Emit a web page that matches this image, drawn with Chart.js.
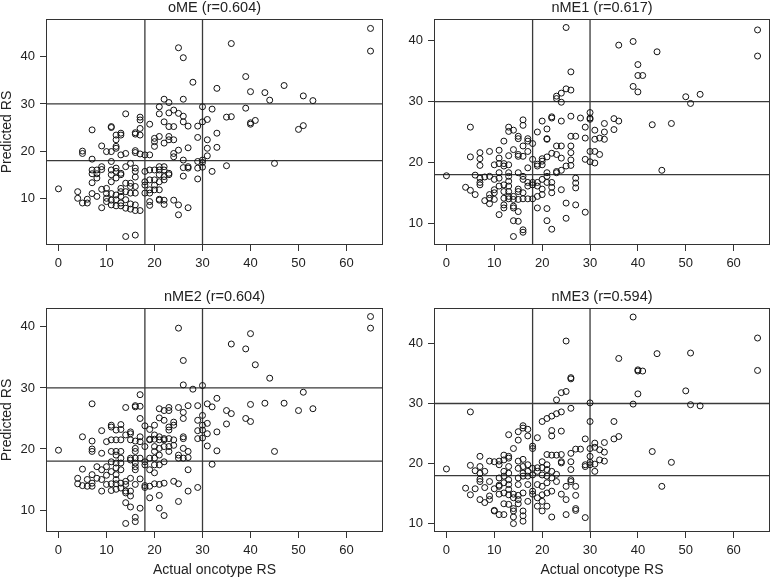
<!DOCTYPE html>
<html>
<head>
<meta charset="utf-8">
<script src="https://cdn.jsdelivr.net/npm/chart.js@4"></script>
<style>
  html, body { margin: 0; padding: 0; background: #fff; }
  body { width: 775px; height: 577px; position: relative; overflow: hidden; }
  canvas { position: absolute; }
</style>
</head>
<body>
<canvas id="c1" width="388" height="288" style="left:0;top:0"></canvas>
<canvas id="c2" width="387" height="288" style="left:388px;top:0"></canvas>
<canvas id="c3" width="388" height="289" style="left:0;top:288px"></canvas>
<canvas id="c4" width="387" height="289" style="left:388px;top:288px"></canvas>
<script>
// actual oncotype RS (x) vs predicted RS (y)
var omePts = [[0,12],[4,11.4],[4,10],[5,20],[5,19.5],[5,9],[6,9],[6,9.8],
  [7,24.5],[7,18.3],[7,16],[7,15.2],[7,13.3],[7,11],[8,16],[8,15.2],[8,14.3],[8,10.4],
  [9,21.1],[9,16.7],[9,16.1],[9,11.9],[9,8],[10,19.9],[10,12.1],[10,11],[10,10],[10,9.3],
  [11,19.9],[11,25],[11,25.2],[11,17.8],[11,16],[11,15],[11,13.5],[11,11],[11,9.6],[11,8.6],
  [12,23.4],[12,22.4],[12,21],[12,20.6],[12,16.4],[12,15.7],[12,14.3],[12,10.7],[12,9.7],[12,8.4],
  [13,23.8],[13,23.4],[13,19.2],[13,15.3],[13,15],[13,12.1],[13,11.4],[13,10.4],[13,9],[13,8.4],
  [14,27.9],[14,19.5],[14,16.7],[14,13.2],[14,11.4],[14,9.7],[14,7.9],[14,1.9],
  [15,17.4],[15,13.2],[15,12.5],[15,11.1],[15,8.8],[15,7.7],
  [16,23.9],[16,23.6],[16,20.1],[16,19.7],[16,16.4],[16,15.7],[16,14.5],[16,12.5],[16,11.1],[16,8.6],[16,7.4],[16,2.2],
  [17,27.2],[17,26.6],[17,24.8],[17,23.4],[17,19.4],[17,7.4],
  [18,19.2],[18,15.7],[18,13.5],[18,12.8],[18,11.1],
  [19,25.7],[19,19.2],[19,16],[19,13.9],[19,11.8],[19,11.1],[19,9.3],[19,8.5],
  [20,22.7],[20,22],[20,21],[20,16],[20,13.9],[20,12.8],[20,11.8],
  [21,29.4],[21,27.9],[21,23.1],[21,16.7],[21,16],[21,15],[21,13.5],[21,11.8],[21,9.8],[21,9.6],
  [22,31],[22,26.2],[22,21.7],[22,16.7],[22,16],[22,14.6],[22,13.9],[22,9.6],[22,8.7],
  [23,30.3],[23,28.1],[23,25.2],[23,23.1],[23,22.4],[23,15.3],[23,15],
  [24,28.7],[24,25.2],[24,22.4],[24,19.5],[24,18.8],[24,9.6],
  [25,41.9],[25,28],[25,20.2],[25,8.6],[25,6.5],
  [26,39.8],[26,31],[26,27.4],[26,26.2],[26,18.1],[26,16.5],[26,14.7],
  [27,25.3],[27,20.7],[27,16.7],[27,16.4],[27,8],[28,34.6],
  [29,25.3],[29,22.9],[29,17.8],[29,16.4],[29,14.1],
  [30,29.4],[30,26.2],[30,18.1],[30,17.6],[30,16.6],
  [31,26.7],[31,22.4],[31,20.6],[31,19],[32,28.9],[32,15.7],
  [33,33.3],[33,23.8],[33,20.8],[35,27.2],[35,16.9],[36,42.8],[36,27.3],
  [39,35.8],[39,29.1],[40,32.6],[40,26],[40,25.7],[41,26.5],[43,32.4],[44,30.8],[45,17.4],
  [47,33.9],[50,24.6],[51,31.7],[51,25.4],[53,30.7],[65,46],[65,41.2]];

var nme1Pts = [[0,17.8],[4,15.9],[5,25.8],[5,20.9],[5,15.4],[6,17.9],[6,14.7],
  [7,21.6],[7,20.6],[7,19.5],[7,17.4],[7,16.7],[7,16.3],[8,17.6],[8,13.7],
  [9,21.8],[9,17.7],[9,14.7],[9,14.1],[9,13.2],[10,19.6],[10,17.2],[10,15.5],[10,15],[10,13.9],
  [11,22],[11,20.7],[11,19.8],[11,18.3],[11,17.4],[11,16.1],[11,11.4],
  [12,23.5],[12,19.8],[12,19.4],[12,16.3],[12,15.2],[12,14.1],[12,13],[12,12.5],
  [13,25.8],[13,25.1],[13,21.1],[13,19.6],[13,18.3],[13,17.7],[13,16.9],[13,16.1],[13,15.2],[13,14.4],[13,14],
  [14,25.3],[14,22.1],[14,14.4],[14,13.9],[14,12.8],[14,12.5],[14,10.4],[14,7.8],
  [15,24.3],[15,23.9],[15,21.3],[15,21],[15,18.3],[15,15.6],[15,15.2],[15,13.9],[15,11.9],[15,10.3],
  [16,27],[16,26.1],[16,22.7],[16,21],[16,17.7],[16,17.2],[16,15],[16,14],[16,8.9],[16,8.5],
  [17,23.9],[17,23.5],[17,21.8],[17,19.1],[17,16.7],[17,16.1],[17,14],
  [18,23.1],[18,20.5],[18,16.7],[18,16.3],[18,14],
  [19,25],[19,19.7],[19,19.4],[19,16.7],[19,16.1],[19,14.4],[19,12.5],
  [20,26.8],[20,20.6],[20,20.2],[20,19.6],[20,17.2],[20,15.6],[20,14.7],
  [21,25.5],[21,23.9],[21,23.8],[21,20.9],[21,18.3],[21,17.7],[21,16.7],[21,12.4],[21,10.4],
  [22,27.5],[22,27.3],[22,21.5],[22,16.7],[22,15.9],[22,15],[22,9],
  [23,30.9],[23,30.5],[23,22.7],[23,21.3],[23,18.5],[23,18.3],
  [24,31.4],[24,29.9],[24,26.8],[24,22.7],[24,20.7],[24,18.7],[24,15.5],
  [25,42.2],[25,32.1],[25,19.4],[25,13.3],[25,10.8],
  [26,34.9],[26,31.9],[26,27.6],[26,24.3],[26,22.7],[26,21.6],[26,20.4],[26,19.5],
  [27,24.3],[27,17.4],[27,16.6],[27,15.8],[27,13],[28,27.3],
  [29,25.8],[29,24],[29,20.5],[29,11.8],[30,28.2],[30,27.3],[30,27.1],[30,21.8],[30,20.1],
  [31,25.3],[31,23.8],[31,21.8],[31,19.9],[32,24],[32,21.3],[33,26.4],[33,25],[33,23.8],
  [35,27.2],[35,25.4],[36,26.8],[36,39.3],[39,39.9],[39,32.5],[40,36.1],[40,34.3],[40,31.6],
  [41,34.3],[43,26.2],[44,38.2],[45,18.7],[47,26.4],[50,30.8],[51,29.7],[53,31.2],[65,41.8],[65,37.5]];

var nme2Pts = [[0,19.8],[4,15.2],[4,14.3],[5,22],[5,16.7],[5,14],[6,15],[6,13.9],
  [7,27.4],[7,21.3],[7,20],[7,19.6],[7,15.8],[7,14.4],[7,13.9],[8,17.1],[8,15.2],
  [9,23],[9,19.3],[9,16.6],[9,15],[9,13.1],[10,21.2],[10,17.1],[10,15.7],[10,14.2],
  [11,23.9],[11,23.6],[11,21.5],[11,19.6],[11,17.9],[11,16.3],[11,14.3],[11,13.2],
  [12,23.1],[12,21.5],[12,19.6],[12,19],[12,17.7],[12,16.9],[12,15.8],[12,15],[12,14.3],[12,13.4],
  [13,24],[13,23.2],[13,21.5],[13,19.6],[13,18.5],[13,17.7],[13,16.6],[13,14.4],[13,13.6],
  [14,26.8],[14,22.3],[14,14.7],[14,14.2],[14,13.1],[14,12.8],[14,11.2],[14,7.8],
  [15,22.8],[15,22.5],[15,21.5],[15,18.5],[15,18.2],[15,15.2],[15,13.1],[15,12.3],[15,10.5],
  [16,27.1],[16,26.9],[16,21.3],[16,20.1],[16,19.6],[16,18.5],[16,17.7],[16,17.1],[16,16.6],[16,14.2],[16,8.8],[16,8.1],
  [17,28.9],[17,27],[17,25],[17,22],[17,21.2],[17,18.5],[17,15.1],[17,10.3],
  [18,23.8],[18,20.4],[18,17.9],[18,17.4],[18,14],[18,13.7],
  [19,23.2],[19,21.6],[19,21.5],[19,18.5],[19,16.6],[19,13.9],[19,12],
  [20,23.9],[20,22.3],[20,21.6],[20,20.4],[20,19.6],[20,18.5],[20,17.4],[20,16.1],[20,14.3],
  [21,26.6],[21,25.1],[21,22],[21,21.5],[21,20.1],[21,19],[21,17.4],[21,14.2],[21,12.4],[21,10.3],
  [22,26.3],[22,24.7],[22,21.7],[22,21.5],[22,20.4],[22,17.9],[22,14.4],[22,9.1],
  [23,26.8],[23,26.3],[23,23.6],[23,23.1],[23,21.7],[23,20.4],[23,19.6],
  [24,24.4],[24,23.9],[24,21.5],[24,20.6],[24,14.7],
  [25,39.8],[25,26.8],[25,19],[25,18.5],[25,14.3],[25,11.4],
  [26,34.5],[26,30.5],[26,26],[26,25],[26,22],[26,21.7],[26,20.1],[26,18.5],
  [27,27.1],[27,19.6],[27,18.6],[27,16.6],[27,13.1],[28,29.8],
  [29,27.1],[29,24.7],[29,23],[29,21.7],[29,13.7],[30,30.4],[30,25.5],[30,23.9],[30,23.1],[30,21.8],
  [31,27.4],[31,24.2],[31,22.5],[31,20.5],[32,26.9],[32,17.5],[33,28.3],[33,22.8],[33,19.7],
  [35,26.3],[35,24.1],[36,37.2],[36,25.8],[39,36.4],[39,25],[40,38.9],[40,27.3],[40,24.5],
  [41,33.8],[43,27.5],[44,31.6],[45,19.6],[47,27.5],[50,26.3],[51,29.3],[53,26.6],[65,41.7],[65,39.8]];

var nme3Pts = [[0,19.1],[4,15.9],[5,28.6],[5,19.7],[5,14.8],[6,18.8],[6,15.8],
  [7,21.2],[7,19.5],[7,18.4],[7,17.4],[7,17],[7,14],[8,18.7],[8,16],[8,13.5],
  [9,20.4],[9,17],[9,14.6],[9,14],[10,20.3],[10,15.8],[10,12.2],[10,12.1],
  [11,20.4],[11,19.8],[11,17.6],[11,16.4],[11,16.2],[11,14.9],[11,11.5],
  [12,21.4],[12,20.6],[12,18.7],[12,17.9],[12,16.8],[12,15.1],[12,13.3],[12,11.5],
  [13,24.8],[13,21.2],[13,20.9],[13,19.5],[13,18.4],[13,17.3],[13,16.5],[13,15.7],[13,14.8],[13,13.2],
  [14,22.5],[14,14.9],[14,14.3],[14,12.5],[14,12.1],[14,11.1],[14,10],
  [15,25.3],[15,23.9],[15,20.4],[15,19.2],[15,17.6],[15,16.5],[15,14.7],[15,14],[15,13.3],
  [16,26.3],[16,25.9],[16,20.7],[16,19.5],[16,18.4],[16,17.9],[16,15.1],[16,12.1],[16,11.3],[16,10.4],
  [17,25.7],[17,24.6],[17,19.8],[17,18.7],[17,17.9],[17,16.5],[17,13.7],
  [18,22.9],[18,22.5],[18,19.2],[18,18.1],[18,15.4],[18,14.9],
  [19,24.3],[19,19.3],[19,18.7],[19,16.5],[19,14.3],[19,12.9],
  [20,27],[20,20.3],[20,19.3],[20,18.1],[20,16.2],[20,14.8],[20,13.7],[20,12.1],
  [21,27.5],[21,21.5],[21,19.8],[21,19],[21,17.9],[21,16.8],[21,15.1],[21,12.9],
  [22,27.9],[22,25.5],[22,24.6],[22,21.4],[22,18.7],[22,17.6],[22,15.4],[22,11.1],
  [23,28.3],[23,30.6],[23,21.4],[23,18.2],[23,17],
  [24,31.8],[24,28.6],[24,25.4],[24,21.5],[24,20.3],[24,20.1],[24,14.9],
  [25,40.4],[25,32],[25,16.2],[25,14],[25,11.5],
  [26,34.3],[26,34.1],[26,29.2],[26,21.7],[26,20.3],[26,19],[26,17.3],[26,17],
  [27,22.4],[27,16.2],[27,14.7],[27,12.5],[27,12.2],[28,22.4],
  [29,24.1],[29,19.8],[29,19.5],[29,11],[30,30.1],[30,27],[30,22.5],[30,21.2],[30,20.2],[30,19.8],
  [31,23.4],[31,22.7],[31,19.9],[31,18.7],[32,22.3],[32,20.6],[33,23.5],[33,21.9],[33,20.4],
  [35,27],[35,24.1],[36,37.5],[36,24.5],[39,44.4],[39,29.9],[40,35.6],[40,35.4],[40,31.6],
  [41,35.4],[43,22],[44,38.3],[45,16.2],[47,20.2],[50,32.1],[51,38.4],[51,29.8],[53,29.6],[65,40.9],[65,35.5]];

var xTicks = [0, 10, 20, 30, 40, 50, 60];
var yTicks = [10, 20, 30, 40];
var cutPoints = [18, 30];

var fontFam = '"Liberation Sans", Arial, sans-serif';
var ink = '#222';

var framePlugin = {
    id: 'frame',
    beforeDatasetsDraw: function (chart, args, opts) {
        var ctx = chart.ctx, a = chart.chartArea;
        var xs = chart.scales.x, ys = chart.scales.y;
        ctx.save();
        ctx.strokeStyle = '#3a3a3a';
        ctx.lineWidth = 1.3;
        ctx.beginPath();
        cutPoints.forEach(function (v) {
            var px = xs.getPixelForValue(v);
            ctx.moveTo(px, a.top); ctx.lineTo(px, a.bottom);
            var py = ys.getPixelForValue(v);
            ctx.moveTo(a.left, py); ctx.lineTo(a.right, py);
        });
        ctx.stroke();
        ctx.strokeStyle = '#333';
        ctx.lineWidth = 1;
        ctx.strokeRect(a.left + 0.5, a.top + 0.5, a.width - 1, a.height - 1);
        ctx.fillStyle = ink;
        ctx.font = '14.5px ' + fontFam;
        ctx.textAlign = 'center';
        ctx.textBaseline = 'middle';
        ctx.fillText(opts.text, (a.left + a.right) / 2, a.top - 11);
        ctx.restore();
    }
};

function makePanel(id, title, pts, ymin, ymax, yTitle, xTitle, padTop, padRight, xAxisH) {
    var ctx = document.getElementById(id).getContext('2d');
    return new Chart(ctx, {
        type: 'scatter',
        data: {
            datasets: [{
                data: pts.map(function (p) { return { x: p[0], y: p[1] }; }),
                pointRadius: 3,
                pointBorderWidth: 1,
                borderColor: '#111',
                backgroundColor: 'rgba(0,0,0,0)'
            }]
        },
        options: {
            responsive: false,
            animation: false,
            devicePixelRatio: 1,
            events: [],
            layout: { padding: { top: padTop, right: padRight, left: 0, bottom: 0 } },
            plugins: {
                legend: { display: false },
                tooltip: { enabled: false },
                frame: { text: title }
            },
            scales: {
                x: {
                    type: 'linear',
                    min: -2.6,
                    max: 67.6,
                    afterBuildTicks: function (axis) { axis.ticks = xTicks.map(function (v) { return { value: v }; }); },
                    afterFit: function (axis) { axis.height = xAxisH; },
                    border: { display: false },
                    grid: { drawOnChartArea: false, drawTicks: true, tickLength: 6, color: '#333' },
                    ticks: { padding: 5, color: ink, font: { family: fontFam, size: 13 }, maxRotation: 0 },
                    title: { display: !!xTitle, text: xTitle || '', color: ink, padding: 0,
                        font: { family: fontFam, size: 14, lineHeight: 1 } }
                },
                y: {
                    type: 'linear',
                    min: ymin,
                    max: ymax,
                    afterBuildTicks: function (axis) { axis.ticks = yTicks.map(function (v) { return { value: v }; }); },
                    afterFit: function (axis) { axis.width = 46; },
                    border: { display: false },
                    grid: { drawOnChartArea: false, drawTicks: true, tickLength: 6, color: '#333' },
                    ticks: { padding: 5, color: ink, font: { family: fontFam, size: 13 } },
                    title: { display: !!yTitle, text: yTitle || '', color: ink, padding: 0,
                        font: { family: fontFam, size: 14, lineHeight: 1 } }
                }
            }
        },
        plugins: [framePlugin]
    });
}

makePanel('c1', 'oME (r=0.604)', omePts, 0.1, 48, 'Predicted RS', null, 19, 2, 43);
makePanel('c2', 'nME1 (r=0.617)', nme1Pts, 6.4, 43.6, null, null, 19, 1, 43);
makePanel('c3', 'nME2 (r=0.604)', nme2Pts, 6.4, 43.1, 'Predicted RS', 'Actual oncotype RS', 20, 2, 45);
makePanel('c4', 'nME3 (r=0.594)', nme3Pts, 8.6, 45.9, null, 'Actual oncotype RS', 20, 1, 45);
</script>
</body>
</html>
